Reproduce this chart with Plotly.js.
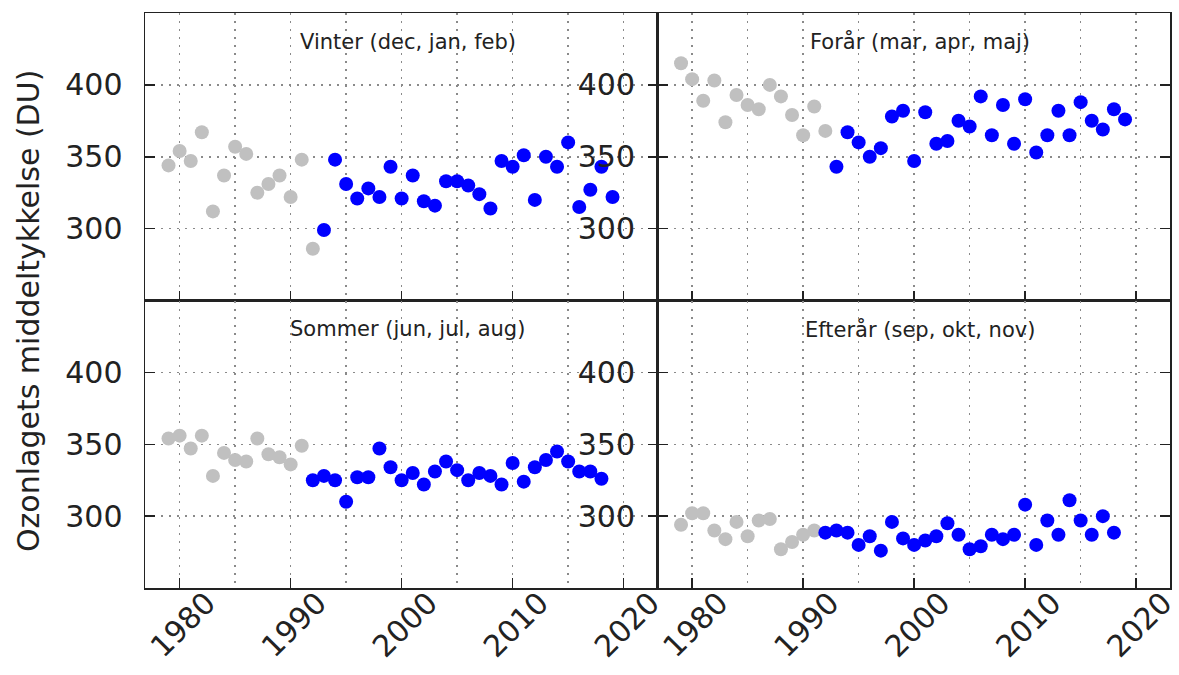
<!DOCTYPE html>
<html>
<head>
<meta charset="utf-8">
<script src="https://cdn.plot.ly/plotly-3.0.1.min.js"></script>
<style>html,body{margin:0;padding:0;background:#fff;}#chart{width:1179px;height:675px;}</style>
</head>
<body>
<div id="chart"></div>
<script>
// ---- Data ----
const panelTitles = ["Vinter (dec, jan, feb)", "Forår (mar, apr, maj)", "Sommer (jun, jul, aug)", "Efterår (sep, okt, nov)"];
const yAxisTitle = "Ozonlagets middeltykkelse (DU)";
const xTickVals = [1980, 1990, 2000, 2010, 2020];
const yTickVals = [300, 350, 400];

const winterGrayYears  = [1979,1980,1981,1982,1983,1984,1985,1986,1987,1988,1989,1990,1991,1992];
const winterGrayValues = [344,354,347,367,312,337,357,352,325,331,337,322,348,286];
const winterBlueYears  = [1993,1994,1995,1996,1997,1998,1999,2000,2001,2002,2003,2004,2005,2006,2007,2008,2009,2010,2011,2012,2013,2014,2015,2016,2017,2018,2019];
const winterBlueValues = [299,348,331,321,328,322,343,321,337,319,316,333,333,330,324,314,347,343,351,320,350,343,360,315,327,343,322];

const springGrayYears  = [1979,1980,1981,1982,1983,1984,1985,1986,1987,1988,1989,1990,1991,1992];
const springGrayValues = [415,404,389,403,374,393,386,383,400,392,379,365,385,368];
const springBlueYears  = [1993,1994,1995,1996,1997,1998,1999,2000,2001,2002,2003,2004,2005,2006,2007,2008,2009,2010,2011,2012,2013,2014,2015,2016,2017,2018,2019];
const springBlueValues = [343,367,360,350,356,378,382,347,381,359,361,375,371,392,365,386,359,390,353,365,382,365,388,375,369,383,376];

const summerGrayYears  = [1979,1980,1981,1982,1983,1984,1985,1986,1987,1988,1989,1990,1991];
const summerGrayValues = [354,356,347,356,328,344,339,338,354,343,341,336,349];
const summerBlueYears  = [1992,1993,1994,1995,1996,1997,1998,1999,2000,2001,2002,2003,2004,2005,2006,2007,2008,2009,2010,2011,2012,2013,2014,2015,2016,2017,2018];
const summerBlueValues = [325,328,325,310,327,327,347,334,325,330,322,331,338,332,325,330,328,322,337,324,334,339,345,338,331,331,326];

const autumnGrayYears  = [1979,1980,1981,1982,1983,1984,1985,1986,1987,1988,1989,1990,1991];
const autumnGrayValues = [294,302,302,290,284,296,286,297,298,277,282,287,290];
const autumnBlueYears  = [1992,1993,1994,1995,1996,1997,1998,1999,2000,2001,2002,2003,2004,2005,2006,2007,2008,2009,2010,2011,2012,2013,2014,2015,2016,2017,2018];
const autumnBlueValues = [288.5,290,288.5,280,286,276,296,284.5,280,283,286,295,287,277,279,287,284,287,308,280,297,287,311,297,287,300,288.5];

// ---- Styling ----
const GRAY = '#c0c0c0', BLUE = '#0000ff';
const FONT = 'DejaVu Sans, Liberation Sans, sans-serif';
const MSIZE = 14;

function pts(x, y, color, ax) {
  return {type:'scatter', mode:'markers', x:x, y:y, xaxis:'x'+ax, yaxis:'y'+ax,
    marker:{color:color, size:MSIZE, line:{width:0}}, hoverinfo:'x+y', showlegend:false, cliponaxis:false};
}

const data = [
  pts(winterGrayYears, winterGrayValues, GRAY, ''),
  pts(winterBlueYears, winterBlueValues, BLUE, ''),
  pts(springGrayYears, springGrayValues, GRAY, '2'),
  pts(springBlueYears, springBlueValues, BLUE, '2'),
  pts(summerGrayYears, summerGrayValues, GRAY, '3'),
  pts(summerBlueYears, summerBlueValues, BLUE, '3'),
  pts(autumnGrayYears, autumnGrayValues, GRAY, '4'),
  pts(autumnBlueYears, autumnBlueValues, BLUE, '4')
];

const gridStyle = {showgrid:true, gridcolor:'#8a8a8a', gridwidth:1.5, griddash:'2px,6px'};

function xax(domain, anchor, showLabels) {
  return Object.assign({
    domain:domain, anchor:anchor, range:[1976.88, 2023.05], zeroline:false,
    tickmode:'array', tickvals:xTickVals, ticktext:xTickVals.map(String),
    showticklabels:showLabels, tickangle:-45, ticklabelshift:27, ticklabelstandoff:-16,
    ticklabeloverflow:'allow',
    ticks:'inside', ticklen:10, tickwidth:1.5, tickcolor:'#222',
    showline:true, linecolor:'#222', linewidth:1.5, mirror:true,
    minor:{tick0:1975, dtick:5, showgrid:true, gridcolor:'#8a8a8a', gridwidth:1.5, griddash:'2px,6px', ticks:''},
    tickfont:{family:FONT, size:30, color:'#222'}
  }, gridStyle);
}
function yax(domain, anchor) {
  return Object.assign({
    domain:domain, anchor:anchor, range:[250, 450], zeroline:false,
    tickmode:'array', tickvals:yTickVals, ticktext:yTickVals.map(String),
    ticks:'inside', ticklen:10, tickwidth:1.5, tickcolor:'#222', ticklabelstandoff:15,
    ticklabeloverflow:'allow',
    showline:true, linecolor:'#222', linewidth:1.5, mirror:'ticks',
    tickfont:{family:FONT, size:30, color:'#222'}
  }, gridStyle);
}

function panelTitle(text, ax) {
  return {text:text, xref:'x'+ax+' domain', yref:'y'+ax+' domain', x:0.513, y:0.9,
    xanchor:'center', yanchor:'middle', showarrow:false,
    font:{family:FONT, size:21, color:'#222'}};
}

const layout = {
  width:1179, height:675,
  margin:{l:145, r:9, t:13, b:87, pad:0},
  paper_bgcolor:'#fff', plot_bgcolor:'#fff',
  font:{family:FONT, color:'#222'},
  showlegend:false,
  xaxis:  xax([0, 0.5], 'y', false),
  yaxis:  yax([0.5, 1], 'x'),
  xaxis2: xax([0.5, 1], 'y2', false),
  yaxis2: yax([0.5, 1], 'x2'),
  xaxis3: xax([0, 0.5], 'y3', true),
  yaxis3: yax([0, 0.5], 'x3'),
  xaxis4: xax([0.5, 1], 'y4', true),
  yaxis4: yax([0, 0.5], 'x4'),
  annotations:[
    panelTitle(panelTitles[0], ''),
    panelTitle(panelTitles[1], '2'),
    panelTitle(panelTitles[2], '3'),
    panelTitle(panelTitles[3], '4'),
    {text:yAxisTitle, xref:'paper', yref:'paper', x:-0.113, y:0.482, textangle:-90,
     xanchor:'center', yanchor:'middle', showarrow:false,
     font:{family:FONT, size:30, color:'#222'}}
  ]
};

Plotly.newPlot('chart', data, layout, {displayModeBar:false, staticPlot:true});
</script>
</body>
</html>
